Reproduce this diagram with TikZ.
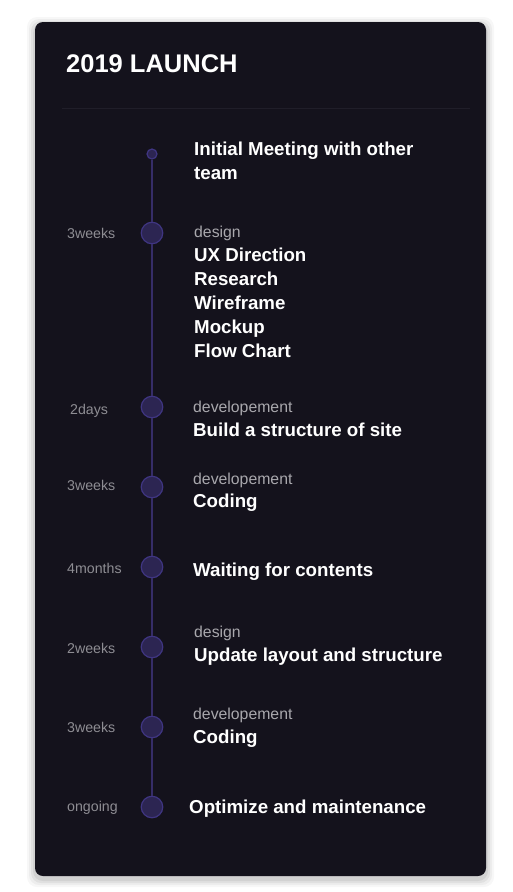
\documentclass[tikz,border=0pt]{standalone}
\usepackage{fontspec}
\setmainfont{Liberation Sans}
\definecolor{card}{HTML}{14121C}
\definecolor{sep}{HTML}{201E29}
\definecolor{tline}{HTML}{362D68}
\definecolor{dotfill}{HTML}{2C2552}
\definecolor{dotdraw}{HTML}{3F3582}
\definecolor{lgray}{HTML}{8E8D93}
\definecolor{sgray}{HTML}{A9A8AD}
\begin{document}
\begin{tikzpicture}[x=1pt,y=-1pt,
  dur/.style={anchor=base west,inner sep=0,text=lgray,font=\fontsize{14.2}{16}\selectfont},
  cat/.style={anchor=base west,inner sep=0,text=sgray,font=\fontsize{15.8}{18}\selectfont},
  task/.style={anchor=base west,inner sep=0,text=white,font=\bfseries\fontsize{18.7}{24}\selectfont,align=left},
  bigdot/.style={circle,fill=dotfill,draw=dotdraw,line width=1.2pt,minimum size=21.5pt,inner sep=0},
  smalldot/.style={circle,fill=dotfill,draw=dotdraw,line width=1.2pt,minimum size=10pt,inner sep=0}]
\useasboundingbox (0,0) rectangle (512,892);
\fill[white] (0,0) rectangle (512,892);
\foreach \o/\a in {8/0.03,6/0.04,4/0.05,2/0.06}{
  \fill[black,opacity=\a,rounded corners=10pt] (35-\o,22-\o+3) rectangle (486+\o,876+\o+3);}
\fill[card,rounded corners=8pt] (35,22) rectangle (486,876);
\node[anchor=base west,inner sep=0,text=white,font=\bfseries\fontsize{25.5}{28}\selectfont] (title) at (66,72) {2019 LAUNCH};
\coordinate (s1) at (62,108); \coordinate (s2) at (470,108);
\draw[sep,line width=0.8pt] (s1) -- (s2);
% dots
\node[smalldot] (d0) at (152,154) {};
\node[bigdot] (d1) at (152,233) {};
\node[bigdot] (d2) at (152,407) {};
\node[bigdot] (d3) at (152,487) {};
\node[bigdot] (d4) at (152,567) {};
\node[bigdot] (d5) at (152,647) {};
\node[bigdot] (d6) at (152,727) {};
\node[bigdot] (d7) at (152,807) {};
\draw[tline,line width=1.1pt] (d0) -- (d1);
\draw[tline,line width=1.1pt] (d1) -- (d2);
\draw[tline,line width=1.1pt] (d2) -- (d3);
\draw[tline,line width=1.1pt] (d3) -- (d4);
\draw[tline,line width=1.1pt] (d4) -- (d5);
\draw[tline,line width=1.1pt] (d5) -- (d6);
\draw[tline,line width=1.1pt] (d6) -- (d7);
% durations
\node[dur] (l1) at (67,238) {3weeks};
\node[dur] (l2) at (70,414) {2days};
\node[dur] (l3) at (67,490) {3weeks};
\node[dur] (l4) at (67,573) {4months};
\node[dur] (l5) at (67,653) {2weeks};
\node[dur] (l6) at (67,732) {3weeks};
\node[dur] (l7) at (67,811) {ongoing};
% tasks
\node[task] (t0) at (194,179) {Initial Meeting with other\\team};
\node[cat] (c1) at (194,237) {design};
\node[task] (t1) at (194,357) {UX Direction\\Research\\Wireframe\\Mockup\\Flow Chart};
\node[cat] (c2) at (193,412) {developement};
\node[task] (t2) at (193,436) {Build a structure of site};
\node[cat] (c3) at (193,484) {developement};
\node[task] (t3) at (193,507) {Coding};
\node[task] (t4) at (193,576) {Waiting for contents};
\node[cat] (c5) at (194,637) {design};
\node[task] (t5) at (194,661) {Update layout and structure};
\node[cat] (c6) at (193,719) {developement};
\node[task] (t6) at (193,743) {Coding};
\node[task] (t7) at (189,813) {Optimize and maintenance};
\end{tikzpicture}
\end{document}
